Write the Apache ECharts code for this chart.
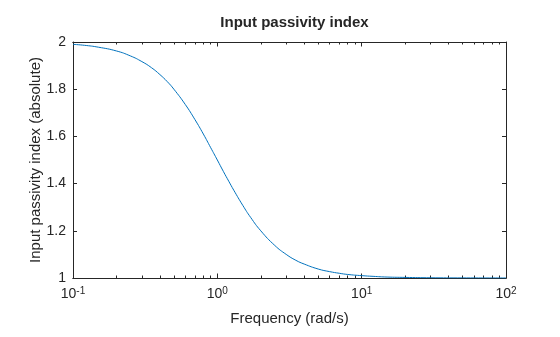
<!DOCTYPE html>
<html>
<head>
<meta charset="utf-8">
<script src="https://cdn.jsdelivr.net/npm/echarts@6/dist/echarts.min.js"></script>
<style>html,body{margin:0;padding:0;background:#fff}#c{width:560px;height:337px}</style>
</head>
<body>
<div id="c"></div>
<script>
// Frequency (rad/s) and index values
var freq = [0.1, 0.12, 0.15, 0.2, 0.25, 0.3, 0.35, 0.4, 0.45, 0.5, 0.6, 0.7, 0.8, 0.9, 1.0, 1.1, 1.2, 1.3, 1.5, 1.7, 2, 2.5, 3, 3.5, 4, 5, 6, 7, 8, 10, 12, 15, 20, 30, 50, 100];
var index = [1.990, 1.986, 1.978, 1.962, 1.941, 1.917, 1.891, 1.862, 1.832, 1.800, 1.735, 1.671, 1.610, 1.552, 1.500, 1.452, 1.410, 1.372, 1.308, 1.257, 1.200, 1.138, 1.100, 1.075, 1.059, 1.038, 1.027, 1.020, 1.015, 1.010, 1.007, 1.004, 1.0025, 1.001, 1.0004, 1.0001];
var majorTicks = [0.1, 1, 10, 100];
var minorTicks = [0.2,0.3,0.4,0.5,0.6,0.7,0.8,0.9,2,3,4,5,6,7,8,9,20,30,40,50,60,70,80,90];
var yTicks = [1, 1.2, 1.4, 1.6, 1.8, 2];

var FONT = 'Liberation Sans, Arial, Helvetica, sans-serif';
var AX = '#262626';
var pts = freq.map(function(f, i){ return [f, index[i]]; });

function xAx(pos, ticks, len, labels, name) {
  return {
    type: 'log', logBase: 10, min: 0.1, max: 100, position: pos, gridIndex: 0,
    name: name || '', nameLocation: 'middle', nameGap: 33,
    nameTextStyle: {fontFamily: FONT, fontSize: 15, color: AX},
    axisLine: {show: true, lineStyle: {color: AX, width: 1}},
    axisTick: {show: true, inside: true, length: len, customValues: ticks, lineStyle: {color: AX, width: 1}},
    axisLabel: labels ? {
      show: true, customValues: majorTicks, margin: 8, color: AX, fontFamily: FONT, fontSize: 14,
      formatter: function(v){ var k = Math.round(Math.log10(v)); return '10{s|' + k + '}'; },
      rich: {s: {fontSize: 10, fontFamily: FONT, color: AX, verticalAlign: 'bottom', padding: [0,0,7,0]}}
    } : {show: false},
    splitLine: {show: false}, minorTick: {show: false}, minorSplitLine: {show: false}
  };
}
function yAx(pos, labels, name) {
  return {
    type: 'value', min: 1, max: 2, interval: 0.2, position: pos,
    name: name || '', nameLocation: 'middle', nameGap: 30, nameMoveOverlap: false,
    nameTextStyle: {fontFamily: FONT, fontSize: 15, color: AX},
    axisLine: {show: true, lineStyle: {color: AX, width: 1}},
    axisTick: {show: true, inside: true, length: 4, lineStyle: {color: AX, width: 1}},
    axisLabel: labels ? {show: true, margin: 7, color: AX, fontFamily: FONT, fontSize: 14,
      formatter: function(v){ return String(Math.round(v*10)/10); }} : {show: false},
    splitLine: {show: false}
  };
}

var chart = echarts.init(document.getElementById('c'), null, {renderer: 'canvas'});
chart.setOption({
  animation: false,
  backgroundColor: '#ffffff',
  title: {text: 'Input passivity index', left: 289.5, textAlign: 'center', top: 10,
    textStyle: {fontFamily: FONT, fontSize: 15, fontWeight: 'bold', color: AX}},
  grid: {left: 73, right: 54, top: 42, bottom: 59, containLabel: false},
  xAxis: [
    xAx('bottom', majorTicks, 4.5, true, 'Frequency (rad/s)'),
    xAx('bottom', minorTicks, 2.5, false),
    xAx('top', majorTicks, 4.5, false),
    xAx('top', minorTicks, 2.5, false)
  ],
  yAxis: [ yAx('left', true, 'Input passivity index (absolute)'), yAx('right', false) ],
  series: [{
    type: 'line', xAxisIndex: 0, yAxisIndex: 0, data: pts, smooth: true,
    showSymbol: false, symbol: 'none', clip: true,
    lineStyle: {color: '#0072BD', width: 1}
  }]
});
</script>
</body>
</html>
